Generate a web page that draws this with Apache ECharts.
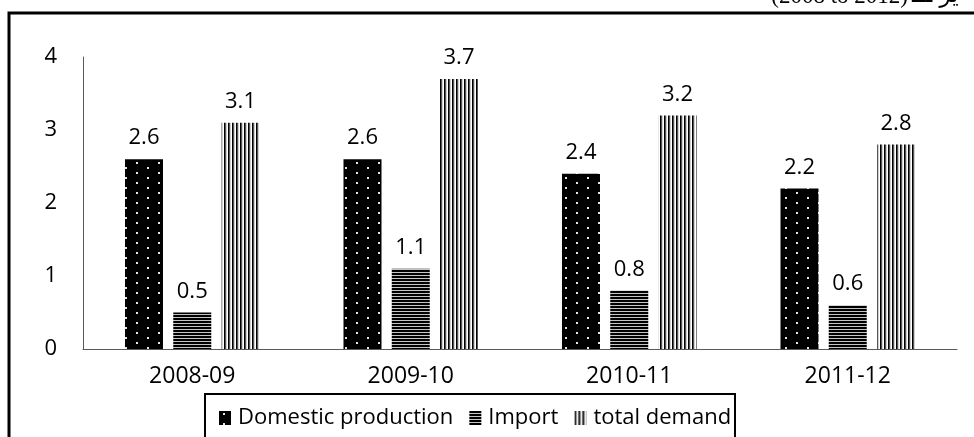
<!DOCTYPE html>
<html><head><meta charset="utf-8">
<script src="https://cdn.jsdelivr.net/npm/echarts@6/dist/echarts.min.js"></script>
<style>html,body{margin:0;padding:0;background:#fff}#c{width:974px;height:437px}</style>
</head><body><div id="c"></div>
<script>
const categories = ['2008-09', '2009-10', '2010-11', '2011-12'];
const domestic = [2.6, 2.6, 2.4, 2.2];
const imports = [0.5, 1.1, 0.8, 0.6];
const demand = [3.1, 3.7, 3.2, 2.8];
const seriesNames = ['Domestic production', 'Import', 'total demand'];
const yTicks = [0, 1, 2, 3, 4];
const titleLatin = '(2008 to 2012)';
const titleArabic = '\u064A\u0631 \u0640\u0640\u0640';

function makePattern(w, h, draw) {
  const c = document.createElement('canvas');
  c.width = w; c.height = h;
  const ctx = c.getContext('2d');
  draw(ctx);
  return { image: c, repeat: 'repeat' };
}
const dotPattern = makePattern(22, 10, ctx => {
  ctx.fillStyle = '#000'; ctx.fillRect(0, 0, 22, 10);
  ctx.fillStyle = '#e6e6e6';
  ctx.fillRect(4, 2, 2, 2);
  ctx.fillRect(15, 7, 2, 2);
});
const hPattern = makePattern(4, 3, ctx => {
  ctx.fillStyle = '#000'; ctx.fillRect(0, 0, 4, 2);
  ctx.fillStyle = '#c4c4c4'; ctx.fillRect(0, 2, 4, 1);
});
const vPattern = makePattern(4, 4, ctx => {
  ctx.fillStyle = '#000'; ctx.fillRect(0, 0, 1, 4);
  ctx.fillStyle = '#555'; ctx.fillRect(1, 0, 1, 4);
  ctx.fillStyle = '#d0d0d0'; ctx.fillRect(2, 0, 1, 4);
  ctx.fillStyle = '#fff'; ctx.fillRect(3, 0, 1, 4);
});

const FONT = '"Open Sans", sans-serif';
const chart = echarts.init(document.getElementById('c'));
const labelCfg = { show: true, position: 'top', distance: 10, color: '#000', fontSize: 22, fontFamily: FONT };
chart.setOption({
  animation: false,
  grid: { left: 83, right: 17, top: 57, bottom: 88 },
  legend: {
    data: seriesNames, left: 214, top: 402, icon: 'rect', itemWidth: 12, itemHeight: 14, itemGap: 16,
    textStyle: { fontSize: 22, fontFamily: FONT, color: '#000', padding: [0, 0, 0, 2] }
  },
  xAxis: {
    type: 'category', data: categories,
    axisLine: { lineStyle: { color: '#595959', width: 1 } },
    axisTick: { show: false },
    axisLabel: { color: '#000', fontSize: 23, fontFamily: FONT, margin: 16 }
  },
  yAxis: {
    type: 'value', min: yTicks[0], max: yTicks[yTicks.length - 1], interval: 1,
    axisLine: { show: true, lineStyle: { color: '#595959', width: 1 } },
    axisTick: { show: false },
    splitLine: { show: false },
    axisLabel: { color: '#000', fontSize: 22, fontFamily: FONT, margin: 26 }
  },
  series: [
    { name: seriesNames[0], type: 'bar', data: domestic, barWidth: 38, barGap: '27%', itemStyle: { color: dotPattern }, label: labelCfg },
    { name: seriesNames[1], type: 'bar', data: imports, barWidth: 38, barGap: '27%', itemStyle: { color: hPattern }, label: labelCfg },
    { name: seriesNames[2], type: 'bar', data: demand, barWidth: 38, barGap: '27%', itemStyle: { color: vPattern }, label: labelCfg }
  ],
  graphic: [
    { type: 'polyline', shape: { points: [[9, 437], [9, 13], [974, 13]] }, style: { stroke: '#000', lineWidth: 3, fill: null } },
    { type: 'rect', shape: { x: 205, y: 394, width: 530, height: 60 }, style: { stroke: '#000', lineWidth: 2, fill: null } },
    { type: 'text', right: 66, top: -15, style: { text: titleLatin, font: '23px "Liberation Serif", serif', fill: '#000' } },
    { type: 'text', left: 912, top: -15, style: { text: titleArabic, font: '23px "DejaVu Sans", serif', fill: '#000' } }
  ]
});
</script></body></html>
